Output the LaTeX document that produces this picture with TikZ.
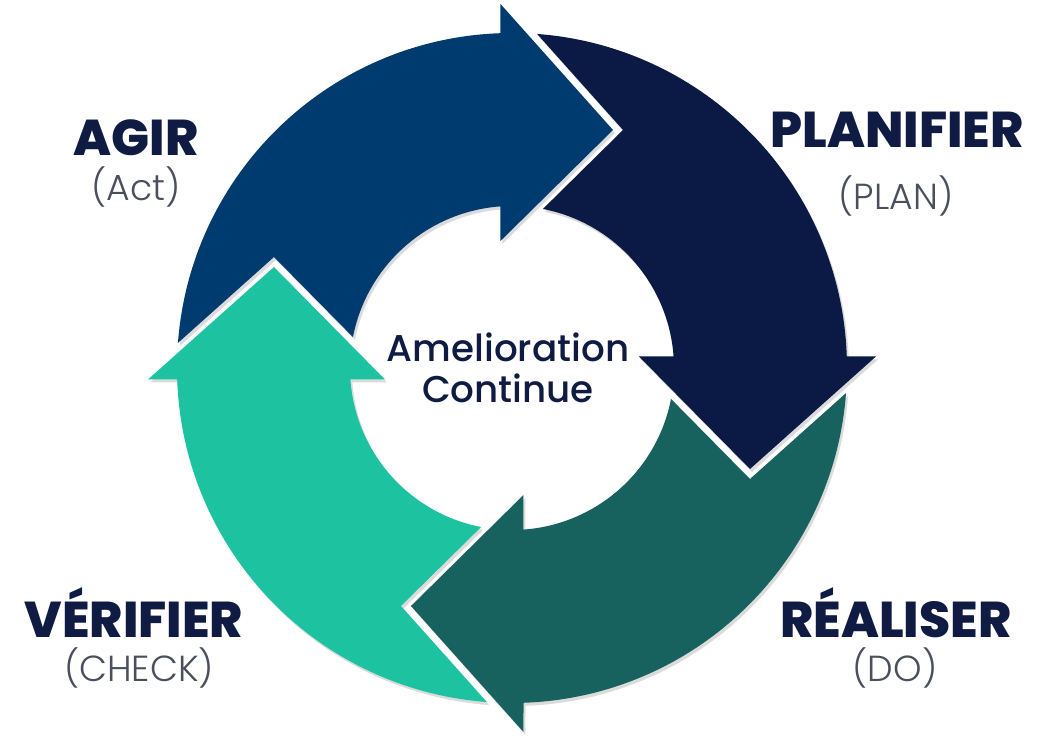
\documentclass[tikz,border=0pt]{standalone}
\usepackage{fontspec}
\setmainfont{Poppins}
\newfontfamily\popheavy{Poppins ExtraBold}
\newfontfamily\popmedium{Poppins Medium}
\newfontfamily\poplight{Poppins Light}
\definecolor{agirblue}{HTML}{003B6F}
\definecolor{plannavy}{HTML}{0A1A44}
\definecolor{dogreen}{HTML}{17625F}
\definecolor{checkteal}{HTML}{1DC3A1}
\definecolor{inknavy}{HTML}{0F1B42}
\definecolor{inkgray}{HTML}{4A4F5C}
\tikzset{
  stage/.style={
    font=\popheavy\fontsize{14.3}{16}\selectfont, text=inknavy,
    anchor=base, inner sep=0pt
  },
  stagesub/.style={
    font=\poplight\fontsize{10.3}{12}\selectfont, text=inkgray,
    anchor=base, inner sep=0pt
  },
  core/.style={
    font=\popmedium\fontsize{10.6}{11.6}\selectfont, text=inknavy,
    align=center, inner sep=0pt
  },
  ringarrow/.style={fill=#1, draw=none},
  ringshade/.style={fill=black, opacity=0.14, draw=none}
}

\begin{document}
\begin{tikzpicture}[x=0.01cm, y=0.01cm]
  % page, centred on the ring
  \fill[white] (-512,-372) rectangle (544,368);
  \useasboundingbox (-512,-372) rectangle (544,368);

  % one arrow of the cycle, turned a quarter for each step
  \foreach \rot/\col in {0/agirblue, -90/plannavy, -180/dogreen, 90/checkteal}{
    \begin{scope}[shift={(2,-3)}, rotate=\rot]
      \fill[ringshade]
        (175.7:335) arc[start angle=175.7, end angle=91.97, radius=335]
        -- (-11.5,364) -- (101,238) -- (-11.5,127) -- (94.07:162)
        arc[start angle=94.07, end angle=169, radius=162]
        -- (-238,111) -- cycle;
    \end{scope}
    \begin{scope}[rotate=\rot]
      \fill[ringarrow=\col]
        (175.7:335) arc[start angle=175.7, end angle=91.97, radius=335]
        -- (-11.5,364) -- (101,238) -- (-11.5,127) -- (94.07:162)
        arc[start angle=94.07, end angle=169, radius=162]
        -- (-238,111) -- cycle;
    \end{scope}
  }

  \node[core] (core) at (-4,0) {Amelioration\\Continue};

  \node[stage] (agir) at (-376,212) {AGIR};
  \node[stagesub] (act) at (-376,167) {(Act)};
  \node[stage] (plan) at (385,220) {PLANIFIER};
  \node[stagesub] (plansub) at (384,158) {(PLAN)};
  \node[stage] (do) at (384,-270) {RÉALISER};
  \node[stagesub] (dosub) at (383,-314) {(DO)};
  \node[stage] (check) at (-378,-270) {VÉRIFIER};
  \node[stagesub] (checksub) at (-373,-314) {(CHECK)};
\end{tikzpicture}
\end{document}
